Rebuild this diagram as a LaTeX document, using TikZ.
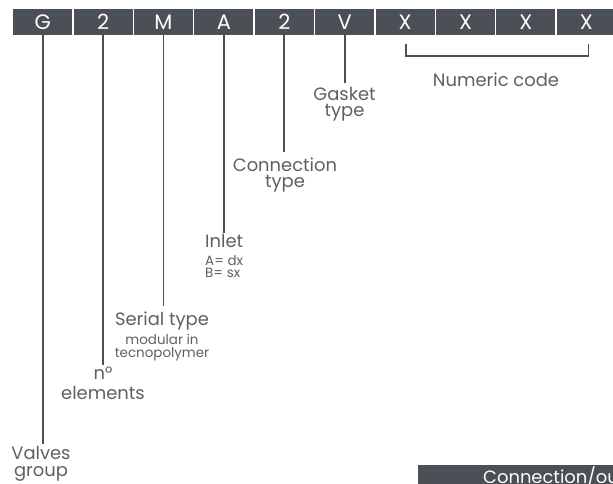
\documentclass[tikz,border=0pt]{standalone}
\usepackage{fontspec}
\setmainfont{Poppins}
\usepackage{tikz}
\usetikzlibrary{calc}

\definecolor{boxgray}{HTML}{4B5056}
\definecolor{txtgray}{HTML}{5C6166}
\newcommand\smlfont{\fontsize{13.5}{13.5}\selectfont}
\newcommand\capfont[1]{\fontsize{18}{#1}\selectfont\lineskiplimit=-30pt}

\tikzset{
  letterbox/.style={fill=boxgray,text=white,minimum width=59bp,minimum height=26bp,
    inner sep=0pt,font=\fontsize{21}{21}\selectfont},
  leader/.style={draw=boxgray,line width=1.8bp},
  caption/.style={text=txtgray,align=center,inner sep=0pt,anchor=north,
    font=\capfont{17}},
}

\begin{document}
\begin{tikzpicture}[x=1bp,y=-1bp]
            \clip (0,0) rectangle (613,484);
            \fill[white] (0,0) rectangle (613,484);

            % code letters
            \node[letterbox] (cG) at (42.7,22){G};
            \node[letterbox] (cN) at (103.1,22){2};
            \node[letterbox] (cM) at (163.5,22){M};
            \node[letterbox] (cA) at (223.9,22){A};
            \node[letterbox] (cC) at (284.3,22){2};
            \node[letterbox] (cV) at (344.7,22){V};
            \node[letterbox] (cX1) at (405.1,22){X};
            \node[letterbox] (cX2) at (465.5,22){X};
            \node[letterbox] (cX3) at (525.9,22){X};
            \node[letterbox] (cX4) at (586.3,22){X};

            % captions
            \node[caption] (lG) at (41,446){Valves\\group};
            \node[caption,font=\capfont{20}] (lN) at (103,367){n°\\elements};
            \node[caption,font=\capfont{19}] (lM) at (162,312){Serial type\\{\smlfont modular in}\\[-6.5bp]{\smlfont tecnopolymer}};
            \node[caption,anchor=north west,align=left,font=\capfont{18}] (lA) at (205,234.5){Inlet\\{\smlfont A= dx}\\[-6.5bp]{\smlfont B= sx}};
            \node[caption,font=\capfont{16}] (lC) at (285,157.5){Connection\\type};
            \node[caption,font=\capfont{16}] (lV) at (344.5,87){Gasket\\type};
            \node[caption] (lX) at (496,72.5){Numeric code};

            % leaders
            \draw[leader] (cG.south) -- ++(0,409);
            \draw[leader] (cN.south) -- ++(0,330);
            \draw[leader] (cM.south) -- ++(0,271);
            \draw[leader] (cA.south) -- ++(0,198);
            \draw[leader] (cC.south) -- ++(0,117);
            \draw[leader] (cV.south) -- ++(0,48);

            % bracket
            \coordinate (bl) at (406,44.5);
            \coordinate (br) at (588.5,44.5);
            \draw[leader] (bl) -- ++(0,11.5) -| (br);

            % footer bar
            \fill[boxgray] (418,465) rectangle (613,484);
            \node[text=white,anchor=base west,inner sep=0pt,font=\fontsize{18}{18}\selectfont] (foot) at (483,483){Connection/outlet};
          \end{tikzpicture}
\end{document}
